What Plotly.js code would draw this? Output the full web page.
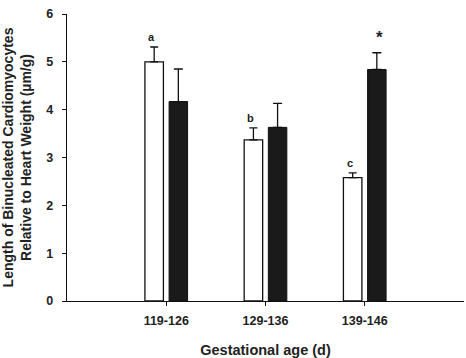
<!DOCTYPE html>
<html><head><meta charset="utf-8">
<script src="https://cdn.plot.ly/plotly-3.0.1.min.js"></script>
<style>html,body{margin:0;padding:0;background:#fff}#c{width:466px;height:358px}</style>
</head><body><div id="c"></div>
<script>
var categories = ["119-126", "129-136", "139-146"];
var openValues = [5.0, 3.37, 2.58];
var openErrors = [0.31, 0.25, 0.10];
var filledValues = [4.17, 3.63, 4.84];
var filledErrors = [0.68, 0.50, 0.35];
var openLabels = ["a", "b", "c"];
var filledLabels = ["", "", "*"];

var F = "Liberation Sans, Arial, sans-serif";
var traces = [
  {type:"bar", x:categories, y:openValues, name:"open",
   marker:{color:"#ffffff", line:{color:"#111", width:1.3}},
   error_y:{type:"data", array:openErrors, arrayminus:openErrors.map(function(){return 0;}), symmetric:false, color:"#111", thickness:1.3, width:4}},
  {type:"bar", x:categories, y:filledValues, name:"filled",
   marker:{color:"#1a1a1a", line:{color:"#111", width:1}},
   error_y:{type:"data", array:filledErrors, arrayminus:filledErrors.map(function(){return 0;}), symmetric:false, color:"#111", thickness:1.3, width:4.5}}
];
var annotations = [];
categories.forEach(function(c, i){
  if (openLabels[i]) annotations.push({x:i - 0.15, y:openValues[i] + openErrors[i], xref:"x", yref:"y", text:openLabels[i], showarrow:false, yanchor:"bottom", yshift:2, font:{family:F, size:11, color:"#222", weight:"bold"}});
  if (filledLabels[i]) annotations.push({x:i + 0.15, y:filledValues[i] + filledErrors[i], xref:"x", yref:"y", text:filledLabels[i], showarrow:false, yanchor:"bottom", yshift:4, font:{family:F, size:17, color:"#222", weight:"bold"}});
});
var layout = {
  width:466, height:358,
  margin:{l:67, r:2, t:14, b:57},
  paper_bgcolor:"#fff", plot_bgcolor:"#fff",
  showlegend:false,
  barmode:"group", bargap:0.513, bargroupgap:0.235,
  font:{family:F, color:"#222"},
  xaxis:{type:"category", range:[-1, 3], showline:true, linecolor:"#111", linewidth:1.3,
    ticks:"outside", ticklen:4, tickcolor:"#111", showgrid:false, zeroline:false,
    ticklabelstandoff:4,
    tickfont:{family:F, size:12.5, color:"#222", weight:"bold"},
    title:{text:"Gestational age (d)", font:{family:F, size:14.5, color:"#222", weight:"bold"}, standoff:17}},
  yaxis:{range:[0, 6], dtick:1, showline:true, linecolor:"#111", linewidth:1.3,
    ticks:"outside", ticklen:4, tickcolor:"#111", showgrid:false, zeroline:false,
    ticklabelstandoff:6,
    tickfont:{family:F, size:12.5, color:"#222", weight:"bold"},
    title:{text:"Length of Binucleated Cardiomyocytes<br>Relative to Heart Weight (µm/g)", font:{family:F, size:14, color:"#222", weight:"bold"}, standoff:12}},
  annotations:annotations
};
Plotly.newPlot("c", traces, layout, {displayModeBar:false, staticPlot:true});
</script></body></html>
